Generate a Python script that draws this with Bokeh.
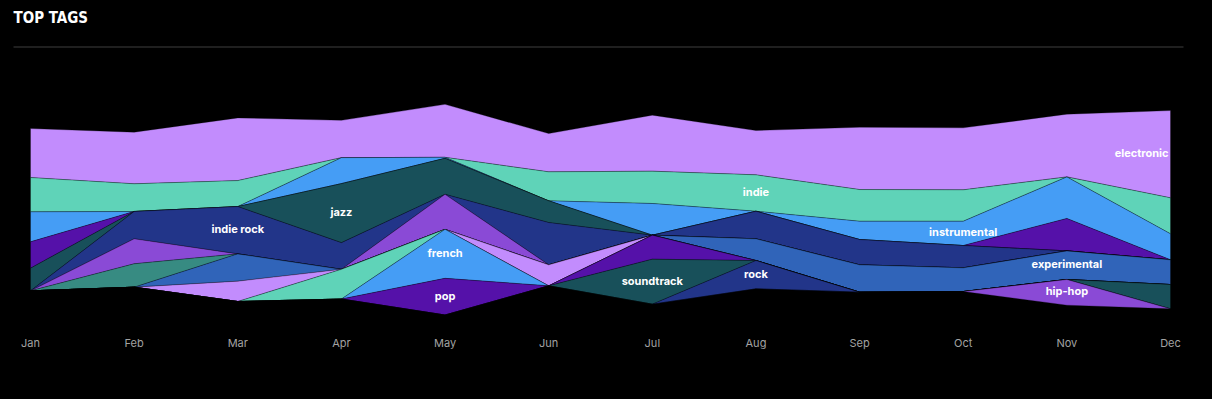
import re
import numpy as np
from bokeh.plotting import figure
from bokeh.models import Range1d, FixedTicker, ColumnDataSource, Label
from bokeh.embed import file_html
from bokeh.resources import INLINE
from bokeh.core.properties import value

# ---------------- data ----------------
months = ["Jan", "Feb", "Mar", "Apr", "May", "Jun", "Jul", "Aug", "Sep", "Oct", "Nov", "Dec"]

# layers, top to bottom (fixed stacking order)
tags = ["electronic", "indie", "instrumental", "ambient", "jazz", "indie rock",
        "alternative", "post-rock", "experimental", "chillout", "folk",
        "french", "pop", "soundtrack", "rock", "hip-hop"]

electronic   = [49.0, 51.6, 62.7, 37.3, 53.0, 38.3, 56.0, 44.3, 62.3, 62.0, 62.7, 87.3]
indie        = [34.3, 27.7, 26.0, 0.0, 0.0, 29.0, 32.3, 36.4, 31.7, 31.4, 0.0, 36.0]
instrumental = [30.0, 0.0, 0.0, 26.0, 1.0, 0.0, 31.7, 0.0, 18.3, 24.3, 41.6, 26.0]
ambient      = [26.3, 0.0, 0.0, 0.0, 0.0, 0.0, 0.0, 0.0, 0.0, 0.0, 32.4, 0.0]
jazz         = [22.7, 0.0, 0.0, 59.0, 36.0, 21.7, 0.0, 0.0, 0.0, 0.0, 0.0, 0.0]
indie_rock   = [0.0, 27.3, 47.3, 26.7, 0.0, 42.3, 0.0, 27.6, 25.3, 22.3, 0.0, 0.0]
alternative  = [0.0, 25.0, 0.0, 0.0, 35.0, 0.0, 0.0, 0.0, 0.0, 0.0, 0.0, 0.0]
post_rock    = [0.0, 23.4, 0.0, 0.0, 0.0, 0.0, 0.0, 0.0, 0.0, 0.0, 0.0, 0.0]
experimental = [0.0, 0.0, 27.3, 0.0, 0.0, 0.0, 0.0, 21.7, 27.3, 23.7, 28.6, 24.7]
chillout     = [0.0, 0.0, 20.3, 0.0, 0.0, 21.0, 0.0, 0.0, 0.0, 0.0, 0.0, 0.0]
folk         = [0.0, 0.0, 0.0, 29.7, 0.0, 0.0, 0.0, 0.0, 0.0, 0.0, 0.0, 0.0]
french       = [0.0, 0.0, 0.0, 0.0, 49.0, 0.0, 0.0, 0.0, 0.0, 0.0, 0.0, 0.0]
pop          = [0.0, 0.0, 0.0, 0.0, 36.7, 0.0, 24.0, 0.0, 0.0, 0.0, 0.0, 0.0]
soundtrack   = [0.0, 0.0, 0.0, 0.0, 0.0, 0.0, 45.0, 0.0, 0.0, 0.0, 0.0, 24.3]
rock         = [0.0, 0.0, 0.0, 0.0, 0.0, 0.0, 0.0, 28.3, 0.0, 0.0, 0.0, 0.0]
hip_hop      = [0.0, 0.0, 0.0, 0.0, 0.0, 0.0, 0.0, 0.0, 0.0, 0.0, 25.7, 0.0]

series = [electronic, indie, instrumental, ambient, jazz, indie_rock, alternative,
          post_rock, experimental, chillout, folk, french, pop, soundtrack, rock, hip_hop]

palette = ["#c28cfd", "#5fd3b8", "#459df5", "#5511a9", "#18505a",
           "#223589", "#8a4ad6", "#378b82", "#3064b9"]

# which month each visible tag label sits at
label_month = {"electronic": 11, "indie": 7, "instrumental": 9, "jazz": 3,
               "indie rock": 2, "french": 4, "pop": 4, "soundtrack": 6,
               "rock": 7, "experimental": 10, "hip-hop": 10}

# ---------------- stacking (silhouette offset) ----------------
vals = np.array(series, dtype=float)
totals = vals.sum(axis=0)
cum = np.cumsum(vals, axis=0)
tops = totals / 2.0 - (cum - vals)
bottoms = tops - vals

x = np.arange(len(months))

# ---------------- layout helpers ----------------
W, H = 1196, 383
X_LEFT_PX, X_RIGHT_PX = 30.0, 1170.0      # page px of Jan / Dec
PX_PER = (X_RIGHT_PX - X_LEFT_PX) / (len(months) - 1)
BOTTOM_BORDER = 60
FRAME_L, FRAME_R = 0.0, float(W)
FRAME_T, FRAME_B = 0.0, float(H - BOTTOM_BORDER)
CENTER_PX = 209.2

def px2x(px):
    return (px - X_LEFT_PX) / PX_PER

def py2y(py):
    return CENTER_PX - py

p = figure(width=W, height=H, output_backend="svg", toolbar_location=None,
           x_range=Range1d(px2x(FRAME_L), px2x(FRAME_R)),
           y_range=Range1d(py2y(FRAME_B), py2y(FRAME_T)),
           y_axis_location=None,
           min_border_left=0, min_border_right=0, min_border_top=0,
           min_border_bottom=BOTTOM_BORDER,
           background_fill_color=None, border_fill_color="#000000",
           outline_line_color=None)
p.grid.visible = False

xs, ys, cols = [], [], []
for i, tag in enumerate(tags):
    xs.append(list(x) + list(x[::-1]))
    ys.append(list(tops[i]) + list(bottoms[i][::-1]))
    cols.append(palette[i % len(palette)])

src = ColumnDataSource(dict(xs=xs, ys=ys, color=cols, tag=tags))
p.patches("xs", "ys", source=src, fill_color="color", fill_alpha=1.0,
          line_color="#000000", line_alpha=0.35, line_width=0.8)

# tag labels
lx, ly, lt, la, lo = [], [], [], [], []
for i, tag in enumerate(tags):
    if tag in label_month:
        m = label_month[tag]
        lx.append(m)
        ly.append((tops[i][m] + bottoms[i][m]) / 2.0)
        lt.append(tag)
        right = (m == len(months) - 1)
        la.append("right" if right else "center")
        lo.append(-2 if right else 0)
lsrc = ColumnDataSource(dict(x=lx, y=ly, text=lt, align=la, off=lo))
p.text("x", "y", text="text", source=lsrc, text_align="align", x_offset="off",
       y_offset=-1,
       text_baseline="middle", text_color="#ffffff", text_font=value("Inter"),
       text_font_style="bold", text_font_size="11px")

# x axis
p.xaxis.ticker = FixedTicker(ticks=list(range(len(months))))
p.xaxis.major_label_overrides = {i: m for i, m in enumerate(months)}
p.xaxis.axis_line_color = None
p.xaxis.major_tick_line_color = None
p.xaxis.minor_tick_line_color = None
p.xaxis.major_label_text_color = "#a3a3a3"
p.xaxis.major_label_text_font = "Inter"
p.xaxis.major_label_text_font_size = "11px"
p.xaxis.major_label_standoff = 6

# title + separator
p.add_layout(Label(x=px2x(13), y=py2y(17.5), text="TOP TAGS", text_align="left",
                   text_baseline="middle", text_color="#ffffff",
                   text_font="DejaVu Sans Condensed",
                   text_font_style="bold", text_font_size="15px"))
p.segment(x0=[px2x(13)], y0=[py2y(46.5)], x1=[px2x(1183)], y1=[py2y(46.5)],
          line_color="#3e3e3e", line_width=1)

html = file_html(p, INLINE)
html = html.replace("</head>", "<style>html, body { background-color: #000000 !important; }</style></head>", 1)
html = re.sub(r"<body([^>]*)>", r'<body\1 style="background-color:#000000;">', html, count=1)
open("out.html", "w").write(html)
